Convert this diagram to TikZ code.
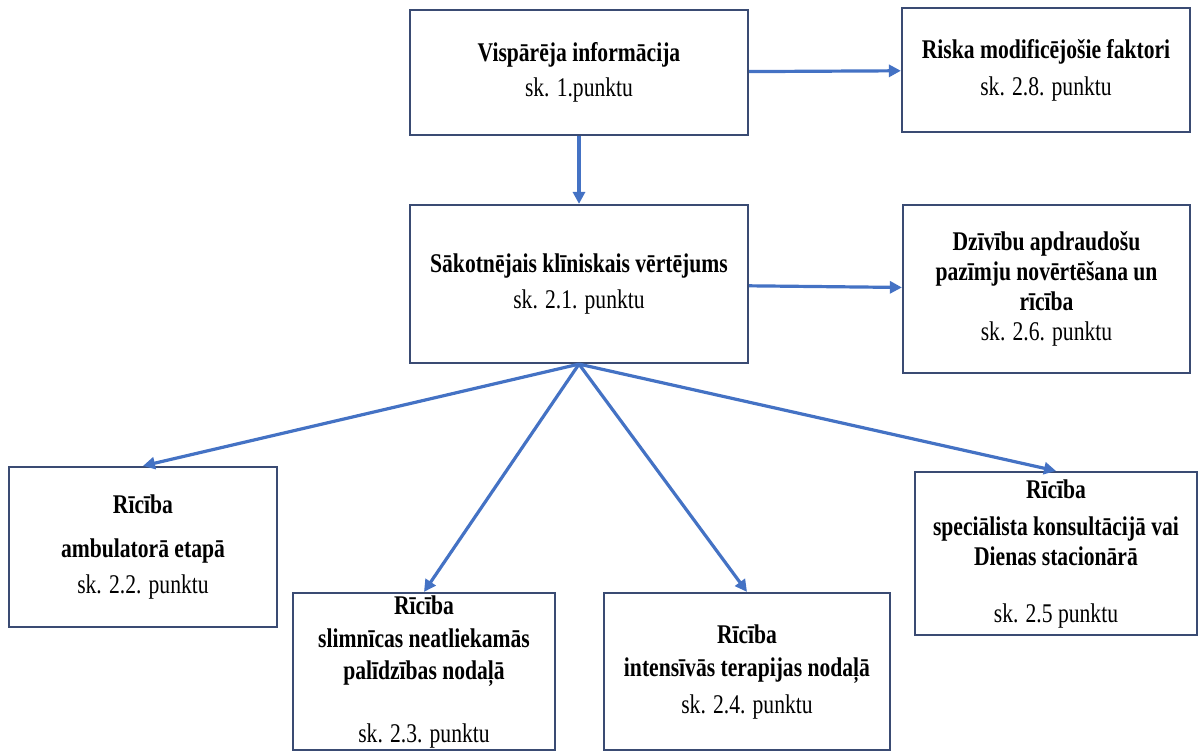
\documentclass[tikz,border=0pt]{standalone}
\usepackage{fontspec}
\setmainfont{Liberation Serif}[FakeStretch=0.8]
\usetikzlibrary{arrows.meta}
\usetikzlibrary{positioning}

\definecolor{boxline}{HTML}{3A4B73}
\definecolor{arrowblue}{HTML}{4472C4}

\begin{document}
\begin{tikzpicture}[x=1pt, y=-1pt,
    box/.style={draw=boxline, line width=2.2pt, fill=white, align=center, inner sep=0pt,
      font=\fontsize{27}{30}\selectfont\bfseries},
    link/.style={draw=arrowblue, line width=3.2pt, -{Triangle[length=12pt,width=12pt]}}]

      % Page frame
      \useasboundingbox (0,0) rectangle (1203,753);

      % Upper row
      \node[box, minimum width=338pt, minimum height=125pt] (info) at (579,72.5)
        {Vispārēja informācija\\[5pt]{\mdseries sk. 1.punktu}};
      \node[box, minimum width=288pt, minimum height=124pt] (risk) at (1046,70)
        {Riska modificējošie faktori\\[7pt]{\mdseries sk. 2.8. punktu}};

      % Middle row
      \node[box, minimum width=338pt, minimum height=158pt] (eval) at (579,284)
        {Sākotnējais klīniskais vērtējums\\[6pt]{\mdseries sk. 2.1. punktu}};
      \node[box, minimum width=287pt, minimum height=168pt] (vital) at (1046.5,289)
        {Dzīvību apdraudošu\\pazīmju novērtēšana un\\rīcība\\{\mdseries sk. 2.6. punktu}};

      % Lower row
      \node[box, minimum width=268pt, minimum height=160pt] (amb) at (143,547)
        {Rīcība\\[14pt]ambulatorā etapā\\[6pt]{\mdseries sk. 2.2. punktu}};
      \node[box, minimum width=262pt, minimum height=157pt] (ned) at (424,671.5)
        {Rīcība\\[3pt]slimnīcas neatliekamās\\[2pt]palīdzības nodaļā\\[33pt]{\mdseries sk. 2.3. punktu}};
      \node[box, minimum width=286pt, minimum height=157pt] (icu) at (747,671.5)
        {Rīcība\\[3pt]intensīvās terapijas nodaļā\\[7pt]{\mdseries sk. 2.4. punktu}};
      \node[box, minimum width=282pt, minimum height=163pt] (spec) at (1056,553.5)
        {Rīcība\\[7pt]speciālista konsultācijā vai\\Dienas stacionārā\\[27pt]{\mdseries sk. 2.5 punktu}};

      % Arrows
      \draw[link] (info) -- (eval);
      \draw[link] (info) -- (risk);
      \draw[link] (eval) -- (vital);

      % Fan from the clinical assessment
      \foreach \t in {amb,ned,icu,spec} {
        \draw[link] (eval.south) -- (\t.north);
      }

    \end{tikzpicture}
\end{document}
